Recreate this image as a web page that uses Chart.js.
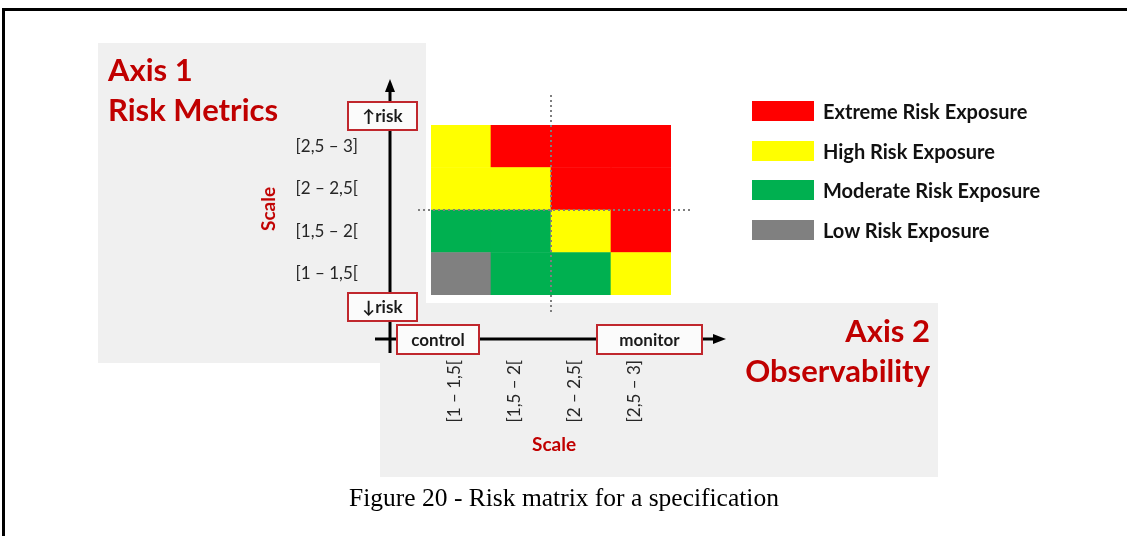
<!DOCTYPE html>
<html>
<head>
<meta charset="utf-8">
<script src="https://cdn.jsdelivr.net/npm/chart.js@4/dist/chart.umd.min.js"></script>
<style>
  body { margin: 0; background: #fff; }
  #page { position: relative; width: 1127px; height: 536px; overflow: hidden; }
  #riskChart { position: absolute; left: 0; top: 0; }
  .frameTop { position: absolute; left: 2px; top: 8px; width: 1125px; height: 3px; background: #000; }
  .frameLeft { position: absolute; left: 2px; top: 8px; width: 3px; height: 528px; background: #000; }
  .heading { position: absolute; font-family: Lato, sans-serif; font-weight: bold; color: #c00000; font-size: 31px; line-height: 40px; }
  .scaleTitle { position: absolute; font-family: Lato, sans-serif; font-weight: bold; color: #c00000; font-size: 19px; line-height: 22px; }
  #legend { position: absolute; left: 752px; top: 101px; font-family: Lato, sans-serif; font-weight: bold; font-size: 20px; color: #111; }
  #legend div { height: 20px; margin-bottom: 19.5px; display: flex; align-items: center; }
  #legend span.sw { display: inline-block; width: 62px; height: 20px; margin-right: 9px; }
  .caption { position: absolute; left: 0; width: 1128px; top: 483px; text-align: center; font-family: "Liberation Serif", "Times New Roman", serif; font-size: 25.5px; color: #000; }
</style>
</head>
<body>
<div id="page">
  <canvas id="riskChart" width="1127" height="536"></canvas>
  <div class="frameTop"></div>
  <div class="frameLeft"></div>
  <div class="heading" style="left:108px; top:49px;">Axis 1<br>Risk Metrics</div>
  <div class="heading" style="right:197px; top:310px; text-align:right;">Axis 2<br>Observability</div>
  <div class="scaleTitle" style="left:246px; top:198px; transform: rotate(-90deg); transform-origin: center;">Scale</div>
  <div class="scaleTitle" style="left:532px; top:433px;">Scale</div>
  <div id="legend"></div>
  <div class="caption">Figure 20 - Risk matrix for a specification</div>
</div>
<script>
// Axis 2 (observability) categories, left to right
const observability = ['[1 – 1,5[', '[1,5 – 2[', '[2 – 2,5[', '[2,5 – 3]'];
// Axis 1 (risk metrics) categories, bottom to top
const riskMetrics = ['[1 – 1,5[', '[1,5 – 2[', '[2 – 2,5[', '[2,5 – 3]'];

// exposure levels
const levelNames = ['Low Risk Exposure', 'Moderate Risk Exposure', 'High Risk Exposure', 'Extreme Risk Exposure'];
const levelColors = ['#808080', '#00b050', '#ffff00', '#ff0000'];

// exposure level for each cell, one row per risk metric (bottom to top)
const exposureRow1 = [0, 1, 1, 2];
const exposureRow2 = [1, 1, 2, 3];
const exposureRow3 = [2, 2, 3, 3];
const exposureRow4 = [2, 3, 3, 3];
const exposure = [exposureRow1, exposureRow2, exposureRow3, exposureRow4];

// legend (top = extreme)
const legendEl = document.getElementById('legend');
[...levelNames.keys()].reverse().forEach(i => {
    const row = document.createElement('div');
    row.innerHTML = `<span class="sw" style="background:${levelColors[i]}"></span>${levelNames[i]}`;
    legendEl.appendChild(row);
});

function drawBox(ctx, x, y, w, h, text) {
    ctx.fillStyle = '#fbfbfb';
    ctx.fillRect(x, y, w, h);
    ctx.strokeStyle = '#c0272d';
    ctx.lineWidth = 2;
    ctx.strokeRect(x, y, w, h);
    ctx.fillStyle = '#1a1a1a';
    ctx.font = 'bold 17px Lato, "DejaVu Sans", sans-serif';
    ctx.textAlign = 'center';
    ctx.textBaseline = 'middle';
    ctx.fillText(text, x + w / 2, y + h / 2 + 1);
}

// panels, axes, boxes, dotted quadrant lines and tick labels
const diagram = {
    id: 'diagram',
    beforeDraw(chart) {
        const ctx = chart.ctx;
        ctx.save();
        ctx.fillStyle = '#f0f0f0';
        ctx.fillRect(98, 43, 328, 320);
        ctx.fillRect(380, 303, 558, 174);
        ctx.fillStyle = '#ffffff';
        ctx.fillRect(426, 43, 300, 260);
        ctx.restore();
    },
    afterDatasetsDraw(chart) {
        const ctx = chart.ctx;
        const area = chart.chartArea;
        const xs = chart.scales.x;
        const ys = chart.scales.y;
        ctx.save();

        // dotted quadrant lines
        ctx.strokeStyle = '#7f7f7f';
        ctx.lineWidth = 2;
        ctx.setLineDash([2, 3]);
        const midX = Math.round(xs.getPixelForValue(1.5));
        const midY = Math.round(ys.getPixelForValue(2));
        ctx.beginPath();
        ctx.moveTo(midX, area.top - 30);
        ctx.lineTo(midX, area.bottom + 20);
        ctx.moveTo(area.left - 13, midY);
        ctx.lineTo(area.right + 19, midY);
        ctx.stroke();
        ctx.setLineDash([]);

        // axis arrows
        ctx.strokeStyle = '#000';
        ctx.fillStyle = '#000';
        ctx.lineWidth = 3;
        ctx.beginPath();
        ctx.moveTo(390, 353);
        ctx.lineTo(390, 88);
        ctx.moveTo(375, 339);
        ctx.lineTo(716, 339);
        ctx.stroke();
        ctx.beginPath();
        ctx.moveTo(390, 79);
        ctx.lineTo(385, 92);
        ctx.lineTo(395, 92);
        ctx.closePath();
        ctx.fill();
        ctx.beginPath();
        ctx.moveTo(726, 339);
        ctx.lineTo(713, 334);
        ctx.lineTo(713, 344);
        ctx.closePath();
        ctx.fill();

        // label boxes on the axes
        drawBox(ctx, 348, 102, 69, 28, '↑risk');
        drawBox(ctx, 348, 293, 69, 28, '↓risk');
        drawBox(ctx, 397, 325, 82, 29, 'control');
        drawBox(ctx, 597, 325, 105, 29, 'monitor');

        // tick labels
        ctx.fillStyle = '#262626';
        ctx.font = '17px Lato, sans-serif';
        ctx.textBaseline = 'middle';
        ctx.textAlign = 'right';
        riskMetrics.forEach((t, i) => {
            ctx.fillText(t, 358, ys.getPixelForValue(i + 0.5));
        });
        observability.forEach((t, i) => {
            ctx.save();
            ctx.translate(xs.getPixelForValue(i) - 6, 360);
            ctx.rotate(-Math.PI / 2);
            ctx.fillText(t, 0, 0);
            ctx.restore();
        });
        ctx.restore();
    }
};

const config = {
    type: 'bar',
    data: {
        labels: observability,
        datasets: riskMetrics.map((name, r) => ({
            label: name,
            data: observability.map(() => [r, r + 1]),
            backgroundColor: exposure[r].map(l => levelColors[l]),
            borderWidth: 0,
            barPercentage: 1,
            categoryPercentage: 1
        }))
    },
    options: {
        responsive: false,
        animation: false,
        layout: {
            padding: { left: 431, right: 456, top: 125, bottom: 241 }
        },
        scales: {
            x: { display: false, stacked: true },
            y: { display: false, min: 0, max: 4 }
        },
        plugins: {
            legend: { display: false },
            tooltip: {
                callbacks: {
                    label: function(item) {
                        const level = exposure[item.datasetIndex][item.dataIndex];
                        return `Risk ${riskMetrics[item.datasetIndex]}: ${levelNames[level]}`;
                    }
                }
            }
        }
    },
    plugins: [diagram]
};

// グラフの描画
const ctx = document.getElementById('riskChart').getContext('2d');
new Chart(ctx, config);
</script>
</body>
</html>
